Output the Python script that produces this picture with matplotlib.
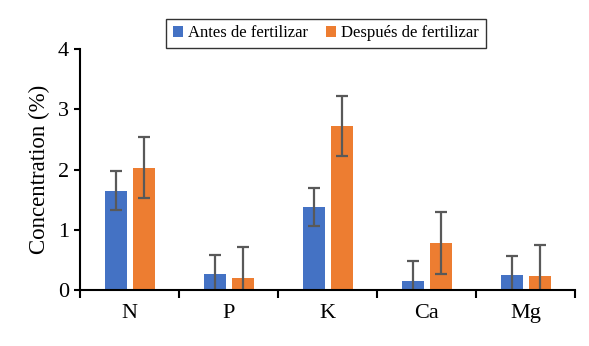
import matplotlib.pyplot as plt
import numpy as np

plt.rcParams['font.family'] = ['Liberation Serif', 'DejaVu Serif']

# Data
nutrients = ["N", "P", "K", "Ca", "Mg"]
antes = [1.65, 0.27, 1.38, 0.15, 0.25]
antes_err = [0.33, 0.31, 0.32, 0.33, 0.31]
despues = [2.03, 0.20, 2.72, 0.78, 0.23]
despues_err = [0.51, 0.52, 0.50, 0.51, 0.52]
series_labels = ["Antes de fertilizar", "Después de fertilizar"]

colors = ['#4472C4', '#ED7D31']
err_color = '#595959'

fig = plt.figure(figsize=(5.89, 3.46), dpi=100)
ax = fig.add_axes([0.136, 0.162, 0.84, 0.696])

x = np.arange(len(nutrients))
w = 0.22
ekw = dict(ecolor=err_color, elinewidth=1.6, capsize=4, capthick=1.6)
ax.bar(x - 0.135, antes, w, color=colors[0], label=series_labels[0],
       yerr=antes_err, error_kw=ekw)
ax.bar(x + 0.145, despues, w, color=colors[1], label=series_labels[1],
       yerr=despues_err, error_kw=ekw)

ax.set_xlim(-0.5, 4.5)
ax.set_ylim(0, 4)
ax.set_yticks([0, 1, 2, 3, 4])
ax.set_xticks(x)
ax.set_xticklabels(nutrients, fontsize=16)
ax.set_xticks(np.arange(-0.5, 5, 1), minor=True)
ax.tick_params(axis='x', which='major', length=0, pad=10)
ax.tick_params(axis='x', which='minor', length=6, width=1.5, direction='out')
ax.tick_params(axis='y', labelsize=16, length=4, width=1.5, direction='out', pad=4)
ax.set_ylabel("Concentration (%)", fontsize=16.5, labelpad=6)

for s in ['top', 'right']:
    ax.spines[s].set_visible(False)
for s in ['left', 'bottom']:
    ax.spines[s].set_linewidth(1.5)
    ax.spines[s].set_color('black')

leg = ax.legend(loc='lower center', bbox_to_anchor=(0.497, 0.97), ncol=2,
                fontsize=12, frameon=True, fancybox=False, edgecolor='black',
                handlelength=0.6, handleheight=0.6, handletextpad=0.3,
                columnspacing=1.1, borderpad=0.4)
leg.get_frame().set_linewidth(1.0)

fig.savefig('out.png', dpi=100, facecolor='white')
